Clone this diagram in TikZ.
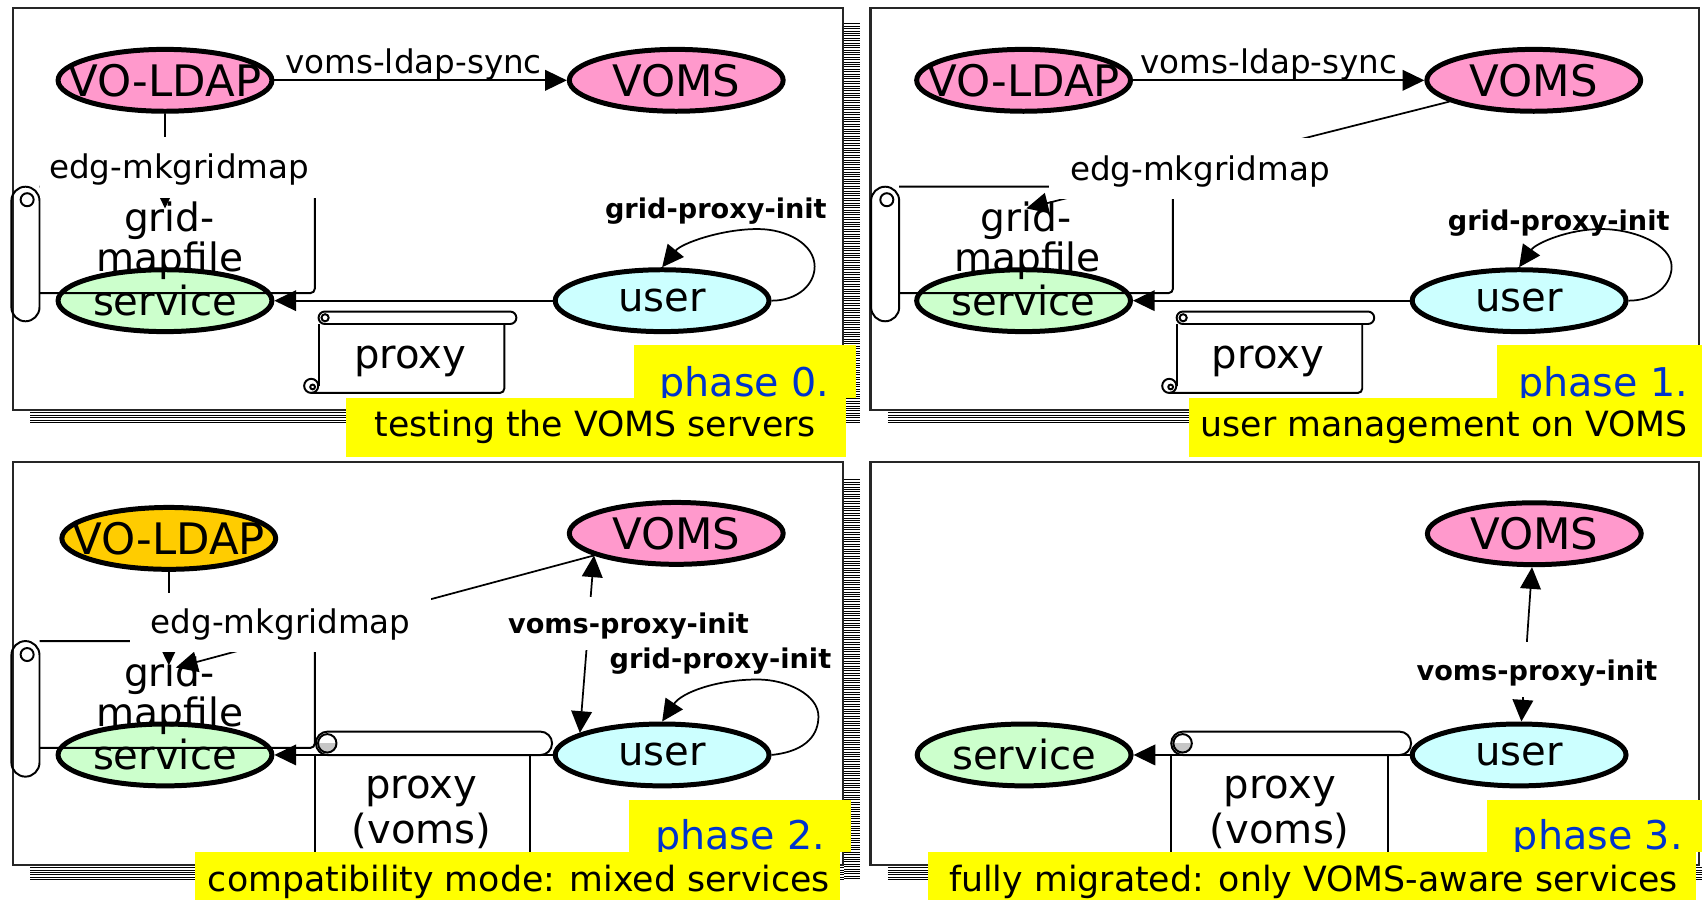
\documentclass[tikz,border=0pt]{standalone}
\usepackage{fontspec}
\setmainfont{DejaVu Sans}
\usetikzlibrary{shapes.geometric,arrows.meta}
\definecolor{pinkc}{HTML}{FF99CC}
\definecolor{greenc}{HTML}{CCFFCC}
\definecolor{cyanc}{HTML}{CCFFFF}
\definecolor{orangec}{HTML}{FFCC00}
\definecolor{yellowc}{HTML}{FFFF00}
\definecolor{bluec}{HTML}{0033CC}
\newcommand\FBig{\fontsize{37pt}{39pt}\selectfont}
\newcommand\FCaps{\fontsize{40pt}{42pt}\selectfont}
\newcommand\FGm{\fontsize{36pt}{38pt}\selectfont}
\newcommand\FMid{\fontsize{30pt}{32pt}\selectfont}
\newcommand\FBold{\fontsize{25pt}{27pt}\selectfont\bfseries}
\newcommand\FPhase{\fontsize{36.5pt}{38pt}\selectfont}
\newcommand\FCap{\fontsize{32pt}{34pt}\selectfont}
\newcommand\ZB[1]{\makebox[0pt][c]{#1}}
\begin{document}
\begin{tikzpicture}[x=1pt,y=-1pt,
  ell/.style={ellipse, draw=black, line width=4.6pt, minimum width=197pt, minimum height=57pt, inner sep=0pt, font=\FBig},
  capell/.style={ell, font=\FCaps},
  arr/.style={line width=1.6pt, -{Triangle[length=20pt,width=19pt]}},
  arrboth/.style={line width=1.6pt, {Triangle[length=20pt,width=19pt]}-{Triangle[length=20pt,width=19pt]}},
  scr/.style={line width=1.8pt},
  panelframe/.style={line width=2pt, draw=black!85},
  lblbox/.style={fill=white, inner xsep=0pt, inner ysep=0pt},
  gm/.style={font=\FGm, anchor=base, inner sep=0pt},
  sync/.style={font=\FMid, anchor=base, inner sep=0pt},
  bl/.style={font=\FBold, anchor=base, inner sep=0pt},
  ph/.style={font=\FPhase, text=bluec, anchor=base, inner sep=0pt},
  captxt/.style={font=\FCap, anchor=base, inner sep=0pt},
  bigtxt/.style={font=\FBig, anchor=base, inner sep=0pt},
  shad/.style={line width=0.8pt},
  yel/.style={fill=yellowc}
]
\fill[white] (0,0) rectangle (1568,829);
\useasboundingbox (0,0) rectangle (1568,829);

% ---------- shadows ----------
\foreach \yy in {22,24.2,...,390} \draw[shad] (778,\yy) -- (792,\yy);
\foreach \yy in {380.4,382.6,...,390} \draw[shad] (28,\yy) -- (778,\yy);
\foreach \yy in {380.4,382.6,...,390} \draw[shad] (818,\yy) -- (1568,\yy);
\foreach \yy in {442,444.2,...,811} \draw[shad] (778,\yy) -- (792,\yy);
\foreach \yy in {799.4,801.6,...,811} \draw[shad] (28,\yy) -- (778,\yy);
\foreach \yy in {799.4,801.6,...,811} \draw[shad] (818,\yy) -- (1568,\yy);

% ---------- frames ----------
\draw[panelframe, fill=white] (12,7.7) rectangle (777,378);
\draw[panelframe, fill=white] (802,7.7) rectangle (1565,378);
\draw[panelframe, fill=white] (12,426) rectangle (777,797);
\draw[panelframe, fill=white] (802,426) rectangle (1565,797);

% ================= PANEL 0 =================
\node[capell, fill=pinkc] (a-voldap) at (152,74) {\ZB{VO-LDAP}};
\node[capell, fill=pinkc] (a-voms) at (623,74) {\ZB{VOMS}};
\node[ell, fill=greenc] (a-service) at (152,277) {\ZB{service}};
\node[ell, fill=cyanc] (a-user) at (610,277) {\ZB{user}};
% grid-mapfile scroll
\draw[scr, rounded corners=13pt] (10.5,172) rectangle (36.4,296);
\draw[scr] (25,184) circle[radius=6pt];
\draw[scr, rounded corners=4pt] (36.4,172) -- (290,172) -- (290,270) -- (36.4,270);
\coordinate (a-gmtip) at (152,192);
% connectors
\draw[arr] (a-voldap) -- (a-voms);
\draw[arr] (a-voldap) -- (a-gmtip);
\draw[arr] (a-user) -- (a-service);
\draw[arr] (a-user.east) .. controls (735,277) and (750.5,262) .. (750.5,245.6)
  .. controls (750.5,225) and (725,211) .. (698,211)
  .. controls (665,211) and (628,224) .. (a-user.north);
% proxy scroll
\draw[scr, fill=white, rounded corners=5.75pt] (293.5,287) rectangle (475.7,298.5);
\draw[scr] (299.5,292.75) circle[radius=3.3pt];
\draw[scr] (293.5,298.5) -- (293.5,355.5);
\draw[scr, rounded corners=4pt] (286.7,362) -- (464.6,362) -- (464.6,298.5);
\draw[scr] (286.7,355.5) circle[radius=6.5pt];
\draw[scr] (288,356.5) circle[radius=2.2pt];
% labels
\node[sync] (a-sync) at (381,68) {voms-ldap-sync};
\node[lblbox, font=\FMid, minimum width=256pt, text height=38pt, text depth=18pt] (a-edg) at (165,154) {edg-mkgridmap};
\node[bl] (a-gpi) at (659.5,201) {grid-proxy-init};
\node[gm] (a-grid) at (156,213) {grid-};
\node[gm] (a-mapfile) at (156.5,250) {mapfile};
\node[bigtxt] (a-proxy) at (378,339.5) {proxy};
% yellow
\fill[yel] (584.5,317.8) rectangle (788.5,367);
\node[ph] (a-phase) at (686,365) {phase 0.};
\fill[yel] (319,367) rectangle (779,421);
\node[captxt] (a-cap) at (548.5,402) {testing the VOMS servers};

% ================= PANEL 1 =================
\node[capell, fill=pinkc] (b-voldap) at (943,74) {\ZB{VO-LDAP}};
\node[capell, fill=pinkc] (b-voms) at (1413,74) {\ZB{VOMS}};
\node[ell, fill=greenc] (b-service) at (943,277) {\ZB{service}};
\node[ell, fill=cyanc] (b-user) at (1399.5,277) {\ZB{user}};
\draw[scr, rounded corners=13pt] (802.5,172) rectangle (828.4,296);
\draw[scr] (817,184) circle[radius=6pt];
\draw[scr, rounded corners=4pt] (828.4,172) -- (1080.6,172) -- (1080.6,270) -- (828.4,270);
\coordinate (b-gmtip) at (945.5,192);
\draw[arr] (b-voldap) -- (b-voms);
\draw[arr] (b-voms) -- (b-gmtip);
\draw[arr] (b-user) -- (b-service);
\draw[arr] (b-user.east) .. controls (1525,277) and (1540,262) .. (1540,245.6)
  .. controls (1540,225) and (1505,211) .. (1475,211)
  .. controls (1445,211) and (1415,224) .. (b-user.north);
\draw[scr, fill=white, rounded corners=5.75pt] (1084,287) rectangle (1266,298.5);
\draw[scr] (1090,292.75) circle[radius=3.3pt];
\draw[scr] (1084,298.5) -- (1084,355.5);
\draw[scr, rounded corners=4pt] (1077.2,362) -- (1255,362) -- (1255,298.5);
\draw[scr] (1077.2,355.5) circle[radius=6.5pt];
\draw[scr] (1078.5,356.5) circle[radius=2.2pt];
\node[sync] (b-sync) at (1169,68) {voms-ldap-sync};
\node[lblbox, font=\FMid, minimum width=279pt, text height=39pt, text depth=17pt] (b-edg) at (1105.5,155) {edg-mkgridmap};
\node[bl] (b-gpi) at (1436,212) {grid-proxy-init};
\node[gm] (b-grid) at (945.5,213) {grid-};
\node[gm] (b-mapfile) at (946.5,250) {mapfile};
\node[bigtxt] (b-proxy) at (1168,339.5) {proxy};
\fill[yel] (1379,318) rectangle (1568,367);
\node[ph] (b-phase) at (1477,365) {phase 1.};
\fill[yel] (1095,367) rectangle (1568,421);
\node[captxt] (b-cap) at (1330.5,402) {user management on VOMS};

% ================= PANEL 2 =================
\node[capell, fill=orangec] (c-voldap) at (155.5,496) {\ZB{VO-LDAP}};
\node[capell, fill=pinkc] (c-voms) at (623,491.4) {\ZB{VOMS}};
\node[ell, fill=greenc] (c-service) at (152,695.5) {\ZB{service}};
\node[ell, fill=cyanc] (c-user) at (610,695.5) {\ZB{user}};
\draw[scr, rounded corners=13pt] (10.5,590.6) rectangle (36.4,715.5);
\draw[scr] (25,603) circle[radius=6pt];
\draw[scr, rounded corners=4pt] (36.4,590.6) -- (290,590.6) -- (290,689) -- (36.4,689);
\coordinate (c-gmtip1) at (155.5,613);
\coordinate (c-gmtip2) at (162,615);
\draw[arr] (c-voldap) -- (c-gmtip1);
\draw[arr] (c-voms) -- (c-gmtip2);
\draw[arr] (c-user) -- (c-service);
\draw[arrboth] (c-voms.195) -- (c-user.165);
\draw[arr] (c-user.east) .. controls (745,692) and (754,675) .. (754,660)
  .. controls (754,640) and (725,626) .. (698,626)
  .. controls (660,626) and (628,638) .. (c-user.north);
% proxy (voms) scroll
\draw[scr] (290,695.6) -- (290,790);
\draw[scr] (488,695.6) -- (488,790);
\draw[scr, fill=white, rounded corners=10.8pt] (291,674) rectangle (508.6,695.6);
\begin{scope}
  \clip (292,684.8) rectangle (311,694.5);
  \fill[gray!45] (301.5,684.8) circle[radius=8.5pt];
\end{scope}
\draw[scr] (301.5,684.8) circle[radius=8.5pt];
\node[lblbox, font=\FMid, minimum width=277pt, text height=37.5pt, text depth=17.5pt] (c-edg) at (258.5,573.5) {edg-mkgridmap};
\node[lblbox, font=\FBold, minimum width=240pt, text height=33.5pt, text depth=15.5pt] (c-vpi) at (579,574.5) {voms-proxy-init};
\node[bl] (c-gpi) at (663.7,615.7) {grid-proxy-init};
\node[gm] (c-grid) at (156,632.6) {grid-};
\node[gm] (c-mapfile) at (156.5,669.5) {mapfile};
\node[bigtxt] (c-proxy) at (388,735.5) {proxy};
\node[bigtxt] (c-voms2) at (388.5,777) {(voms)};
\fill[yel] (579.5,737) rectangle (784,785);
\node[ph] (c-phase) at (682,783) {phase 2.};
\fill[yel] (179.7,784.6) rectangle (774,829);
\node[captxt] (c-cap) at (478,821) {compatibility mode: mixed services};

% ================= PANEL 3 =================
\node[capell, fill=pinkc] (d-voms) at (1413.5,491.7) {\ZB{VOMS}};
\node[ell, fill=greenc] (d-service) at (943.5,695.5) {\ZB{service}};
\node[ell, fill=cyanc] (d-user) at (1399.5,695.5) {\ZB{user}};
\draw[arr] (d-user) -- (d-service);
\draw[arrboth] (d-voms) -- (d-user);
\draw[scr] (1079,695.6) -- (1079,790);
\draw[scr] (1279,695.6) -- (1279,790);
\draw[scr, fill=white, rounded corners=10.8pt] (1079,674) rectangle (1300,695.6);
\begin{scope}
  \clip (1080,684.8) rectangle (1099,694.5);
  \fill[gray!45] (1089.5,684.8) circle[radius=8.5pt];
\end{scope}
\draw[scr] (1089.5,684.8) circle[radius=8.5pt];
\node[lblbox, font=\FBold, minimum width=240pt, text height=35.5pt, text depth=15.5pt] (d-vpi) at (1416,616.5) {voms-proxy-init};
\node[bigtxt] (d-proxy) at (1179,735.5) {proxy};
\node[bigtxt] (d-voms2) at (1179,777) {(voms)};
\fill[yel] (1370,737) rectangle (1568,785);
\node[ph] (d-phase) at (1472,783) {phase 3.};
\fill[yel] (855,785) rectangle (1562,829);
\node[captxt] (d-cap) at (1210,821) {fully migrated: only VOMS-aware services};
\end{tikzpicture}
\end{document}
